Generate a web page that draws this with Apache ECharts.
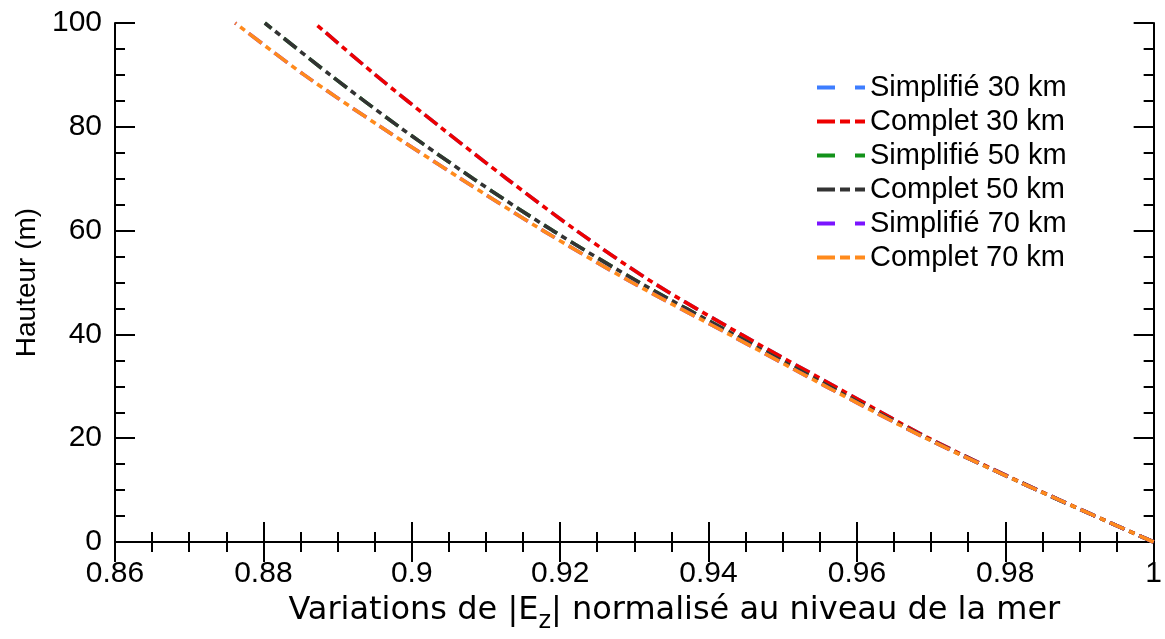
<!DOCTYPE html>
<html>
<head>
<meta charset="utf-8">
<script src="https://cdn.jsdelivr.net/npm/echarts@6/dist/echarts.min.js"></script>
<style>html,body{margin:0;padding:0;background:#fff}#c{width:1165px;height:639px}</style>
</head>
<body>
<div id="c"></div>
<script>
// Heights (m)
const heights = [0, 10, 20, 30, 40, 50, 60, 70, 80, 90, 100];
// Normalised |Ez| values
const simplifie30 = [1.0, 0.9844, 0.9697, 0.9570, 0.9444, 0.9325, 0.9222, 0.9128, 0.9038, 0.8951, 0.8869];
const complet30   = [1.0, 0.9844, 0.9697, 0.9570, 0.9444, 0.9325, 0.9222, 0.9128, 0.9038, 0.8951, 0.8869];
const simplifie50 = [1.0, 0.9843, 0.9694, 0.9562, 0.9434, 0.9307, 0.9190, 0.9083, 0.8983, 0.8890, 0.8802];
const complet50   = [1.0, 0.9843, 0.9694, 0.9562, 0.9434, 0.9307, 0.9190, 0.9083, 0.8983, 0.8890, 0.8802];
const simplifie70 = [1.0, 0.9843, 0.9693, 0.9558, 0.9428, 0.9297, 0.9177, 0.9066, 0.8958, 0.8855, 0.8762];
const complet70   = [1.0, 0.9843, 0.9693, 0.9558, 0.9428, 0.9297, 0.9177, 0.9066, 0.8958, 0.8855, 0.8762];
const seriesNames = ['Simplifié 30 km', 'Complet 30 km', 'Simplifié 50 km', 'Complet 50 km', 'Simplifié 70 km', 'Complet 70 km'];
const xTitle = 'Variations de |E{sub|z}| normalisé au niveau de la mer';
const yTitle = 'Hauteur (m)';

const FONT = '"Liberation Sans", Arial, Helvetica, sans-serif';
const TFONT = '"DejaVu Sans", "Liberation Sans", sans-serif';
const colors = ['#3d7dff', '#ee0000', '#13921a', '#333333', '#7a14ff', '#ff8a1c'];
const values = [simplifie30, complet30, simplifie50, complet50, simplifie70, complet70];
const dashSimple = [16, 16];
const dashComplet = [16, 5, 6, 5];
// legend glyphs (dash patterns drawn as small filled shapes)
const iconSimple = 'path://M0,0H18V4H0Z M38,0H48V4H38Z';
const iconComplet = 'path://M0,0H18V4H0Z M23,0H33V4H23Z M38,0H48V4H38Z';

const series = values.map((vals, i) => ({
  name: seriesNames[i],
  type: 'line',
  xAxisIndex: 0,
  yAxisIndex: 0,
  data: vals.map((v, k) => [v, heights[k]]),
  showSymbol: false,
  symbol: 'none',
  smooth: 0.3,
  z: 2 + i,
  lineStyle: { color: colors[i], width: 3.6, type: (i % 2 === 0) ? dashSimple : dashComplet, cap: 'butt' },
  itemStyle: { color: colors[i] },
  emphasis: { disabled: true }
}));

const axisLineStyle = { lineStyle: { color: '#000', width: 2 } };
const tickCommon = { show: true, inside: true, length: 20, lineStyle: { color: '#000', width: 2 } };
const minorCommon = { show: true, splitNumber: 4, length: 10, lineStyle: { color: '#000', width: 2 } };

const chart = echarts.init(document.getElementById('c'), null, { renderer: 'canvas' });
chart.setOption({
  animation: false,
  backgroundColor: '#fff',
  textStyle: { fontFamily: FONT },
  grid: { left: 115, right: 10, top: 23, bottom: 97, containLabel: false },
  legend: {
    show: true,
    orient: 'vertical',
    left: 812,
    top: 68,
    padding: 5,
    itemWidth: 48,
    itemHeight: 4,
    itemGap: 5,
    data: seriesNames.map((n, i) => ({ name: n, icon: (i % 2 === 0) ? iconSimple : iconComplet, itemStyle: { color: colors[i] } })),
    textStyle: { fontSize: 29, color: '#000', fontFamily: FONT, lineHeight: 28 },
    selectedMode: false
  },
  xAxis: [{
    type: 'value', position: 'bottom', min: 0.86, max: 1, interval: 0.02,
    axisLine: axisLineStyle, axisTick: tickCommon, minorTick: minorCommon,
    splitLine: { show: false }, minorSplitLine: { show: false },
    axisLabel: { fontSize: 30, color: '#000', margin: 17, fontFamily: FONT },
    name: xTitle, nameLocation: 'middle', nameGap: 46,
    nameTextStyle: { fontSize: 32, color: '#000', fontFamily: TFONT, padding: [0, 0, 0, 80],
      rich: { sub: { fontSize: 24, color: '#000', fontFamily: TFONT, verticalAlign: 'bottom', padding: [22, 0, 0, 0] } } }
  }, {
    type: 'value', position: 'top', min: 0.86, max: 1, interval: 0.02,
    axisLine: axisLineStyle, axisTick: tickCommon, minorTick: minorCommon,
    splitLine: { show: false }, axisLabel: { show: false }
  }],
  yAxis: [{
    type: 'value', position: 'left', min: 0, max: 100, interval: 20,
    axisLine: axisLineStyle, axisTick: tickCommon, minorTick: minorCommon,
    splitLine: { show: false }, minorSplitLine: { show: false },
    axisLabel: { fontSize: 30, color: '#000', margin: 13, fontFamily: FONT },
    name: yTitle, nameLocation: 'middle', nameGap: 74, nameRotate: 90,
    nameTextStyle: { fontSize: 28, color: '#000', fontFamily: FONT }
  }, {
    type: 'value', position: 'right', min: 0, max: 100, interval: 20,
    axisLine: axisLineStyle, axisTick: tickCommon, minorTick: minorCommon,
    splitLine: { show: false }, axisLabel: { show: false }
  }],
  series: series
});
</script>
</body>
</html>
